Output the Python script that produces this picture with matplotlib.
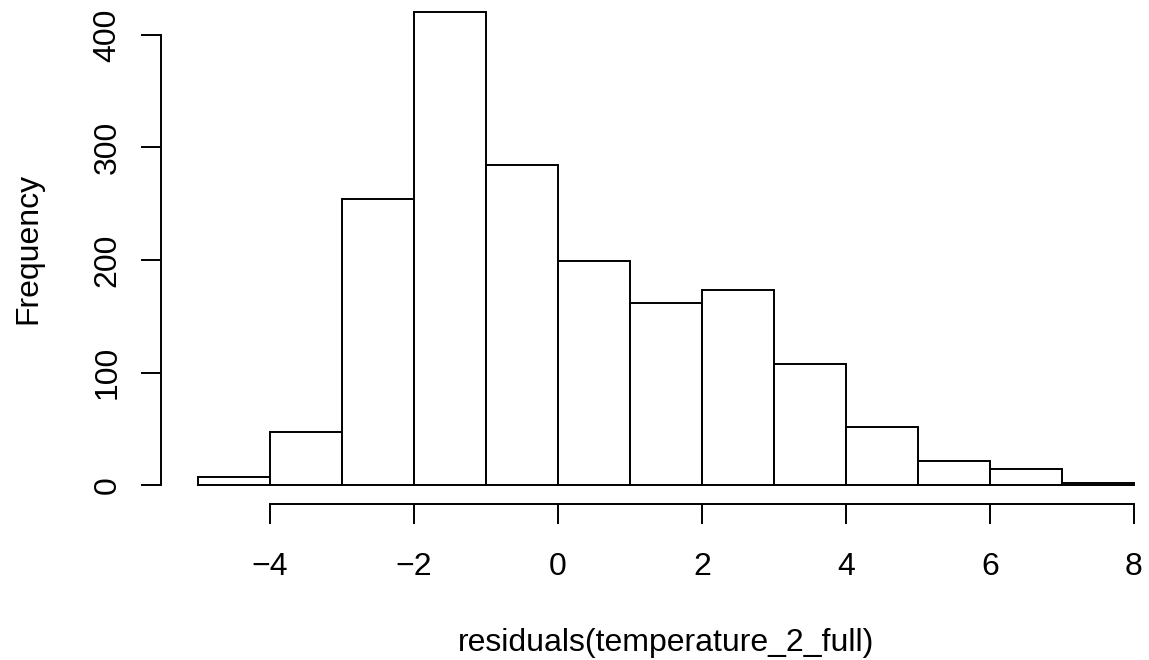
import numpy as np
import matplotlib.pyplot as plt

plt.rcParams['font.family'] = ['Liberation Sans', 'DejaVu Sans']

# histogram of residuals: bin edges and counts
edges = [-5, -4, -3, -2, -1, 0, 1, 2, 3, 4, 5, 6, 7, 8]
counts = [7, 47, 254, 420, 284, 199, 162, 173, 108, 52, 21, 14, 2]
xticks = [-4, -2, 0, 2, 4, 6, 8]
yticks = [0, 100, 200, 300, 400]

W, H = 1149, 660
fig = plt.figure(figsize=(W / 100, H / 100), dpi=100)

# plot region in pixels (R-style, cropped at the top/right)
left_px, right_px, bottom_px, top_px = 160.6, 1149, 503.9, 0
ax = fig.add_axes([left_px / W, (H - bottom_px) / H,
                   (right_px - left_px) / W, (bottom_px - top_px) / H])

ax.bar(edges[:-1], counts, width=np.diff(edges), align='edge',
       facecolor='white', edgecolor='black', linewidth=1.4)

# pixel scale: -4 -> 270px, 8 -> 1134px ; 0 -> 485px, 400 -> 35px
xs = (1134 - 270) / 12
ys = (485 - 35) / 400
ax.set_xlim(-4 - (270 - left_px) / xs, -4 + (right_px - 270) / xs)
ax.set_ylim(-(bottom_px - 485) / ys, (485 - top_px) / ys)

for s in ['top', 'right']:
    ax.spines[s].set_visible(False)
ax.spines['bottom'].set_bounds(xticks[0], xticks[-1])
ax.spines['left'].set_bounds(yticks[0], yticks[-1])
for s in ['bottom', 'left']:
    ax.spines[s].set_linewidth(1.4)

fs = 23
ax.set_xticks(xticks)
ax.set_yticks(yticks)
ax.set_yticklabels([str(v) for v in yticks], rotation=90, va='center')
ax.tick_params(axis='both', length=14.4, width=1.4, labelsize=fs)
ax.tick_params(axis='x', pad=20)
ax.tick_params(axis='y', pad=13)

ax.set_xlabel('residuals(temperature_2_full)', fontsize=fs, va='center')
ax.xaxis.set_label_coords(0.511, -(643 - bottom_px) / (bottom_px - top_px))
ax.set_ylabel('Frequency', fontsize=fs, va='center')
ax.yaxis.set_label_coords((28 - left_px) / (right_px - left_px),
                          (bottom_px - 248.7) / (bottom_px - top_px))

fig.savefig('out.png', dpi=100)
